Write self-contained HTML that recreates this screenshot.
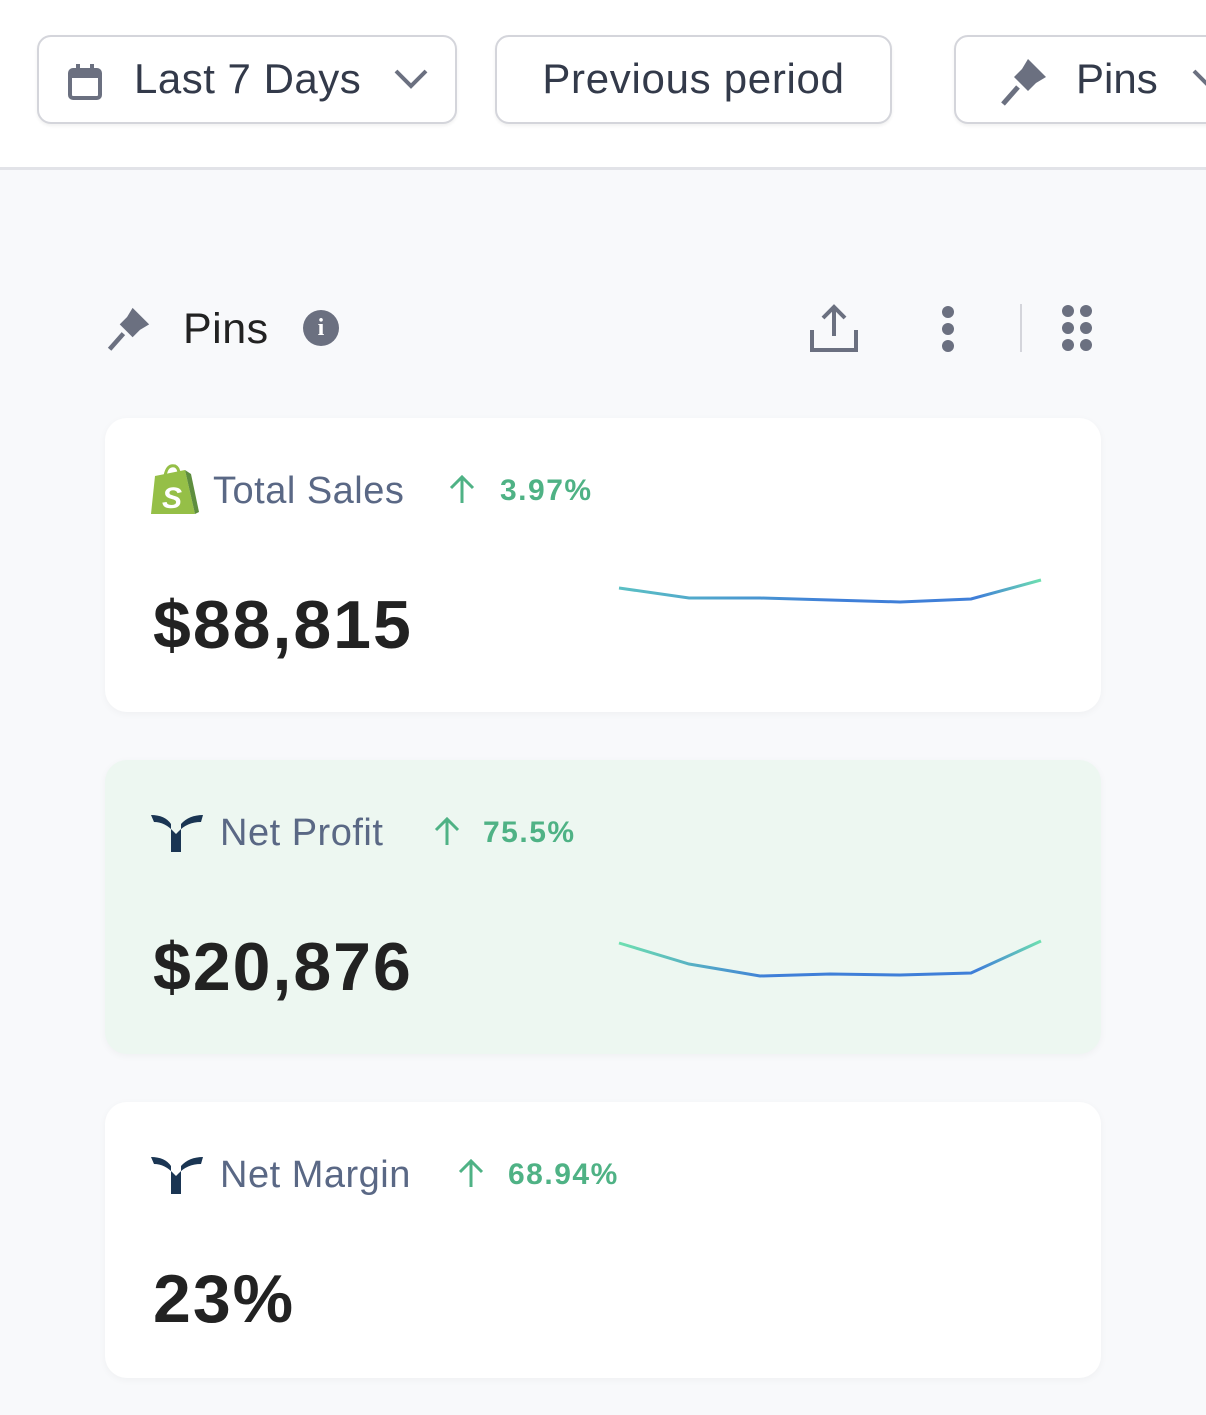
<!DOCTYPE html>
<html><head><meta charset="utf-8"><style>
*{margin:0;padding:0;box-sizing:border-box}
body{width:1206px;height:1415px;background:#f8f9fb;font-family:"Liberation Sans",sans-serif;position:relative;overflow:hidden}
.top{position:absolute;left:0;top:0;width:1206px;height:170px;background:#fff;border-bottom:3px solid #e2e3e8}
.btn{position:absolute;top:35px;height:89px;border:2.5px solid #d4d5db;border-radius:14px;background:#fff;color:#333a4a;font-size:42px;line-height:84px;box-shadow:0 2px 3px rgba(0,0,0,.06)}
.card{position:absolute;left:105px;width:996px;background:#fff;border-radius:22px;box-shadow:0 2px 8px rgba(0,0,0,.04)}
.t{position:absolute;top:52px;font-size:38px;color:#5a6885;letter-spacing:.5px}
.p{position:absolute;top:56px;font-size:30px;font-weight:bold;color:#4fb285;letter-spacing:1.5px}
.ar{position:absolute;top:56px}
.v{position:absolute;left:48px;font-size:68px;font-weight:bold;color:#222;letter-spacing:2px}
</style></head><body>
<div class="top">
 <div class="btn" style="left:37px;width:420px">
  <svg style="position:absolute;left:28px;top:26px" width="36" height="38" viewBox="0 0 36 38"><rect x="3" y="7" width="30" height="28" rx="3" fill="none" stroke="#6b7080" stroke-width="4"/><rect x="3" y="7" width="30" height="8" fill="#6b7080"/><rect x="9" y="1" width="4" height="8" fill="#6b7080"/><rect x="23" y="1" width="4" height="8" fill="#6b7080"/></svg>
  <span style="position:absolute;left:95px;letter-spacing:.5px">Last 7 Days</span>
  <svg style="position:absolute;left:355px;top:32px" width="34" height="20"><polyline points="2,2 17,17 32,2" fill="none" stroke="#6b7080" stroke-width="4"/></svg>
 </div>
 <div class="btn" style="left:495px;width:397px;text-align:center;letter-spacing:.7px">Previous period</div>
 <div class="btn" style="left:954px;width:300px">
  <svg style="position:absolute;left:42px;top:20px" width="50" height="50" viewBox="0 0 50 50"><path d="M30 2 L48 20 L38 26 L30 34 L16 20 L24 12Z" fill="#6b7080"/><line x1="20" y1="30" x2="5" y2="47" stroke="#6b7080" stroke-width="5"/></svg>
  <span style="position:absolute;left:120px">Pins</span>
  <svg style="position:absolute;left:236px;top:32px" width="34" height="20"><polyline points="2,2 17,17 32,2" fill="none" stroke="#6b7080" stroke-width="4"/></svg>
 </div>
</div>
<svg style="position:absolute;left:104px;top:306px" width="48" height="46" viewBox="0 0 50 50"><path d="M30 2 L48 20 L38 26 L30 34 L16 20 L24 12Z" fill="#6b7080"/><line x1="20" y1="30" x2="5" y2="47" stroke="#6b7080" stroke-width="5"/></svg>
<div style="position:absolute;left:183px;top:305px;font-size:43px;color:#222;letter-spacing:.5px">Pins</div>
<div style="position:absolute;left:303px;top:310px;width:36px;height:36px;border-radius:50%;background:#6b7080;color:#fff;font-size:24px;font-weight:bold;text-align:center;line-height:36px;font-family:'Liberation Serif',serif">i</div>
<svg style="position:absolute;left:808px;top:302px" width="52" height="52"><polyline points="26,34 26,5" stroke="#6b7080" stroke-width="4" fill="none"/><polyline points="15,16 26,5 37,16" stroke="#6b7080" stroke-width="4" fill="none"/><polyline points="4,28 4,48 48,48 48,28" stroke="#6b7080" stroke-width="4" fill="none"/></svg>
<svg style="position:absolute;left:938px;top:305px" width="20" height="48"><circle cx="10" cy="7" r="6" fill="#6b7080"/><circle cx="10" cy="24" r="6" fill="#6b7080"/><circle cx="10" cy="41" r="6" fill="#6b7080"/></svg>
<div style="position:absolute;left:1020px;top:304px;width:2px;height:48px;background:#d4d5db"></div>
<svg style="position:absolute;left:1060px;top:304px" width="34" height="48"><g fill="#6b7080"><circle cx="8" cy="7" r="6"/><circle cx="26" cy="7" r="6"/><circle cx="8" cy="24" r="6"/><circle cx="26" cy="24" r="6"/><circle cx="8" cy="41" r="6"/><circle cx="26" cy="41" r="6"/></g></svg>
<div class="card" style="top:418px;height:294px">
 <svg style="position:absolute;left:44px;top:44px" width="52" height="56" viewBox="0 0 52 56"><path d="M6 14 L36 8 L46 52 L2 52Z" fill="#95bf47"/><path d="M36 8 L46 52 L50 50 L42 12Z" fill="#5e8e3e"/><path d="M16 14 Q18 2 26 4 Q30 6 30 12" fill="none" stroke="#95bf47" stroke-width="3"/><text x="13" y="46" font-size="30" font-weight="bold" fill="#fff" font-family="Liberation Sans" font-style="italic">S</text></svg>
 <div class="t" style="left:108px">Total Sales</div>
 <svg class="ar" style="left:343px" width="28" height="30"><path d="M14 29 V3 M3 14 L14 3 L25 14" fill="none" stroke="#4fb285" stroke-width="3"/></svg>
 <div class="p" style="left:395px">3.97%</div>
 <div class="v" style="top:168px">$88,815</div>
 <svg style="position:absolute;left:0;top:0" width="996" height="294"><defs><linearGradient id="g1" x1="0" x2="1"><stop offset="0" stop-color="#5bc0c4"/><stop offset=".5" stop-color="#3f7fd8"/><stop offset=".85" stop-color="#3f7fd8"/><stop offset="1" stop-color="#6ee0b0"/></linearGradient></defs><polyline points="514,170 584,180 655,180 725,182 795,184 866,181 936,162" fill="none" stroke="url(#g1)" stroke-width="3"/></svg>
</div>
<div class="card" style="top:760px;height:294px;background:#edf7f1">
 <svg style="position:absolute;left:46px;top:54px" width="52" height="40" viewBox="0 0 52 40"><path d="M0 1 Q14 1 20 10 L20 38 L30 38 L30 10 Q38 1 52 1 L50 8 Q36 8 27 18 L25 20 L23 18 Q14 8 3 8Z" fill="#1a3553"/></svg>
 <div class="t" style="left:115px">Net Profit</div>
 <svg class="ar" style="left:328px" width="28" height="30"><path d="M14 29 V3 M3 14 L14 3 L25 14" fill="none" stroke="#4fb285" stroke-width="3"/></svg>
 <div class="p" style="left:378px">75.5%</div>
 <div class="v" style="top:168px">$20,876</div>
 <svg style="position:absolute;left:0;top:0" width="996" height="294"><defs><linearGradient id="g2" x1="0" x2="1"><stop offset="0" stop-color="#6ee0b0"/><stop offset=".35" stop-color="#3f7fd8"/><stop offset=".85" stop-color="#3f7fd8"/><stop offset="1" stop-color="#6ee0b0"/></linearGradient></defs><polyline points="514,183 584,204 655,216 725,214 795,215 866,213 936,181" fill="none" stroke="url(#g2)" stroke-width="3"/></svg>
</div>
<div class="card" style="top:1102px;height:276px">
 <svg style="position:absolute;left:46px;top:54px" width="52" height="40" viewBox="0 0 52 40"><path d="M0 1 Q14 1 20 10 L20 38 L30 38 L30 10 Q38 1 52 1 L50 8 Q36 8 27 18 L25 20 L23 18 Q14 8 3 8Z" fill="#1a3553"/></svg>
 <div class="t" style="left:115px">Net Margin</div>
 <svg class="ar" style="left:352px" width="28" height="30"><path d="M14 29 V3 M3 14 L14 3 L25 14" fill="none" stroke="#4fb285" stroke-width="3"/></svg>
 <div class="p" style="left:403px">68.94%</div>
 <div class="v" style="top:158px">23%</div>
</div>
</body></html>
